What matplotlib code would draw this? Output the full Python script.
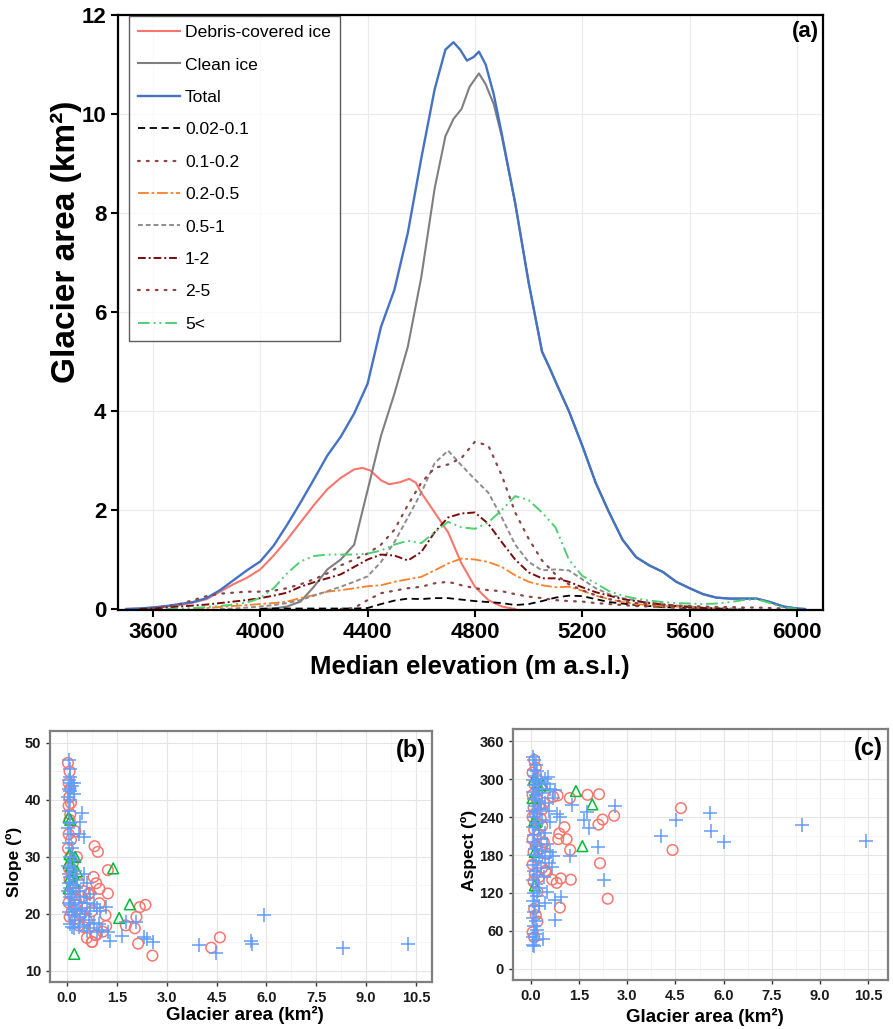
import matplotlib
matplotlib.use("Agg")
import matplotlib.pyplot as plt
import numpy as np
from matplotlib.ticker import MultipleLocator

nan = np.nan
plt.rcParams['font.family'] = ['Liberation Sans', 'DejaVu Sans']

# ---------------- panel (a) data ----------------
elev_total = [3500, 3550, 3600, 3650, 3700, 3750, 3800, 3850, 3900, 3950,
              4000, 4050, 4100, 4150, 4200, 4250, 4300, 4350, 4400, 4450,
              4500, 4550, 4600, 4650, 4690, 4720, 4745, 4770, 4795, 4815,
              4840, 4870, 4900, 4950, 5000, 5050, 5080, 5100, 5150, 5200,
              5250, 5300, 5350, 5400, 5450, 5500, 5550, 5600, 5650, 5700,
              5750, 5800, 5850, 5900, 5950, 6000, 6030]
total = [0.0, 0.01, 0.03, 0.06, 0.1, 0.14, 0.22, 0.38, 0.58, 0.78,
         0.96, 1.28, 1.7, 2.15, 2.62, 3.1, 3.48, 3.95, 4.55, 5.7,
         6.45, 7.6, 9.1, 10.5, 11.3, 11.45, 11.3, 11.08, 11.15, 11.26,
         11.0, 10.4, 9.6, 8.2, 6.6, 5.2, 4.85, 4.6, 4.0, 3.3,
         2.55, 1.95, 1.4, 1.05, 0.88, 0.75, 0.55, 0.42, 0.3, 0.23,
         0.21, 0.21, 0.21, 0.14, 0.05, 0.01, 0.0]

elev_clean = [4000, 4050, 4100, 4150, 4200, 4250, 4300, 4350, 4400, 4450,
              4500, 4550, 4600, 4650, 4690, 4720, 4750, 4780, 4815, 4840,
              4870, 4900, 4950, 5000, 5050, 5080, 5100, 5150, 5200, 5250,
              5300, 5350, 5400, 5450, 5500, 5550, 5600, 5650, 5700, 5750,
              5800, 5850, 5900, 5950, 6000, 6030]
clean = [0.0, 0.01, 0.05, 0.15, 0.45, 0.8, 1.0, 1.3, 2.4, 3.5,
         4.35, 5.3, 6.7, 8.5, 9.55, 9.9, 10.1, 10.55, 10.82, 10.6,
         10.2, 9.55, 8.2, 6.6, 5.2, 4.85, 4.6, 4.0, 3.3, 2.55,
         1.95, 1.4, 1.05, 0.88, 0.75, 0.55, 0.42, 0.3, 0.23, 0.21,
         0.21, 0.21, 0.14, 0.05, 0.01, 0.0]

elev_debris = [3500, 3550, 3600, 3650, 3700, 3750, 3800, 3850, 3900, 3950,
               4000, 4050, 4100, 4150, 4200, 4250, 4300, 4350, 4380, 4410,
               4450, 4480, 4520, 4555, 4580, 4600, 4650, 4700, 4750, 4800,
               4850, 4900, 4950]
debris = [0.0, 0.01, 0.03, 0.05, 0.08, 0.13, 0.2, 0.35, 0.5, 0.63,
          0.8, 1.08, 1.4, 1.75, 2.1, 2.42, 2.65, 2.82, 2.85, 2.8,
          2.6, 2.52, 2.56, 2.63, 2.55, 2.35, 1.95, 1.55, 0.92, 0.45,
          0.18, 0.05, 0.0]

# size classes on a 50 m elevation grid (3500 .. 6050)
elev_grid = np.arange(3500, 6051, 50)
cls_002_01 = [nan, nan, nan, nan, nan, nan, nan, nan, nan, nan,
              0.005, 0.01, 0.01, 0.01, 0.01, 0.01, 0.01, 0.01, 0.02, 0.1,
              0.17, 0.21, 0.2, 0.22, 0.22, 0.19, 0.16, 0.14, 0.12, 0.08,
              0.1, 0.16, 0.23, 0.27, 0.26, 0.2, 0.14, 0.11, 0.08, 0.06,
              0.04, 0.03, 0.02, 0.01, 0.005, 0.0, nan, nan, nan, nan,
              nan, nan]
cls_01_02 = [nan, nan, nan, nan, nan, nan, nan, nan, nan, nan,
             nan, nan, nan, nan, nan, nan, 0.0, 0.02, 0.18, 0.32,
             0.37, 0.42, 0.45, 0.52, 0.55, 0.48, 0.42, 0.38, 0.36, 0.3,
             0.25, 0.22, 0.18, 0.16, 0.15, 0.12, 0.1, 0.08, 0.06, 0.05,
             0.04, 0.03, 0.02, 0.02, 0.01, 0.01, 0.0, nan, nan, nan,
             nan, nan]
cls_02_05 = [nan, nan, nan, nan, nan, 0.01, 0.02, 0.04, 0.06, 0.08,
             0.1, 0.12, 0.15, 0.22, 0.28, 0.35, 0.38, 0.42, 0.46, 0.48,
             0.55, 0.6, 0.65, 0.78, 0.92, 1.02, 1.0, 0.95, 0.85, 0.68,
             0.55, 0.48, 0.44, 0.45, 0.37, 0.27, 0.2, 0.14, 0.1, 0.08,
             0.06, 0.05, 0.03, 0.02, 0.01, 0.0, nan, nan, nan, nan,
             nan, nan]
cls_05_1 = [nan, nan, nan, nan, nan, nan, nan, 0.0, 0.01, 0.03,
            0.05, 0.08, 0.12, 0.18, 0.27, 0.36, 0.45, 0.55, 0.66, 0.95,
            1.35, 1.85, 2.35, 2.95, 3.2, 2.9, 2.62, 2.35, 1.85, 1.3,
            0.95, 0.78, 0.8, 0.78, 0.6, 0.42, 0.3, 0.22, 0.17, 0.13,
            0.1, 0.07, 0.05, 0.03, 0.02, 0.01, 0.0, nan, nan, nan,
            nan, nan]
cls_1_2 = [nan, 0.0, 0.01, 0.03, 0.05, 0.07, 0.09, 0.12, 0.15, 0.18,
           0.22, 0.27, 0.33, 0.45, 0.54, 0.62, 0.7, 0.85, 1.0, 1.1,
           1.08, 0.98, 1.15, 1.55, 1.85, 1.93, 1.95, 1.72, 1.35, 1.0,
           0.74, 0.62, 0.62, 0.55, 0.44, 0.34, 0.27, 0.2, 0.16, 0.12,
           0.09, 0.06, 0.04, 0.02, 0.01, 0.0, nan, nan, nan, nan,
           nan, nan]
cls_2_5 = [nan, nan, 0.02, 0.05, 0.1, 0.18, 0.26, 0.31, 0.33, 0.35,
           0.35, 0.37, 0.42, 0.5, 0.6, 0.72, 0.88, 1.0, 1.12, 1.3,
           1.6, 2.1, 2.55, 2.85, 2.92, 3.05, 3.38, 3.3, 2.7, 1.95,
           1.42, 0.98, 0.7, 0.5, 0.38, 0.28, 0.2, 0.15, 0.12, 0.1,
           0.08, 0.07, 0.06, 0.05, 0.04, 0.04, 0.03, 0.03, 0.02, 0.01,
           0.0, nan]
cls_5 = [nan, nan, nan, 0.0, 0.01, 0.02, 0.04, 0.06, 0.09, 0.13,
         0.22, 0.42, 0.72, 0.96, 1.07, 1.1, 1.1, 1.1, 1.12, 1.18,
         1.3, 1.38, 1.33, 1.55, 1.76, 1.65, 1.62, 1.75, 2.0, 2.28,
         2.2, 1.95, 1.65, 1.0, 0.67, 0.52, 0.36, 0.27, 0.21, 0.17,
         0.14, 0.12, 0.11, 0.1, 0.11, 0.14, 0.18, 0.2, 0.12, 0.03,
         0.0, nan]

# ---------------- panel (b) data: area (km2) vs slope ----------------
blue_area_b = [10.25, 8.31, 5.92, 5.55, 5.57, 4.48, 3.98, 2.59, 2.32, 2.4, 2.09, 1.79, 1.66, 1.29, 1.23, 1.18,
               0.05, 0.08, 0.1, 0.05, 0.12, 0.2, 0.15, 0.06, 0.1, 0.2, 0.03, 0.08, 0.45, 0.4, 0.5, 0.35,
               0.06, 0.1, 0.03, 0.12, 0.05, 0.15, 0.08, 0.2, 0.03, 0.12, 0.25, 0.05, 0.1, 0.5, 0.3, 0.05,
               0.18, 0.6, 0.08, 0.28, 0.4, 0.03, 0.15, 0.5, 0.7, 0.1, 0.25, 0.35, 0.06, 0.6, 0.8, 0.12,
               0.45, 0.9, 0.2, 0.3, 0.05, 0.55, 0.7, 1.0, 0.15, 0.4, 0.65, 0.25, 0.8, 0.1, 0.5, 0.95,
               0.35, 0.7, 0.6, 0.2, 1.05, 0.9, 0.15]
blue_slope_b = [14.7, 14.1, 19.9, 15.3, 14.7, 13.1, 14.6, 15.1, 16.0, 15.6, 18.6, 18.6, 16.2, 15.3, 16.9, 21.3,
                47, 45.5, 44, 43.5, 43, 43, 42.5, 42, 41.5, 41, 40.5, 40, 37.8, 36.2, 33.5, 34,
                38, 36, 35, 34, 32.5, 31.5, 30, 29.5, 28.5, 28, 27.5, 27, 26.5, 27, 26, 25.5,
                25, 25.5, 24.5, 24.5, 24, 24, 23.5, 23, 23.5, 23, 22.5, 22, 22, 22, 21.8, 21.5,
                21, 21, 20.8, 20.5, 20.3, 20, 20.5, 20.5, 19.8, 19.5, 19, 19, 18.5, 18.2, 18, 18.2,
                17.8, 17.5, 17, 17.5, 17.2, 16.8, 17.7]
red_area_b = [4.6, 4.34, 2.57, 2.36, 2.19, 2.09, 2.04, 2.14, 1.77, 1.23, 1.23, 1.18, 1.08, 1.16, 0.98, 0.93,
              0.83, 0.88, 0.8, 0.76, 0.88, 0.68, 0.98,
              0.03, 0.08, 0.05, 0.1, 0.07, 0.12, 0.05, 0.1, 0.08, 0.25, 0.05, 0.12, 0.03, 0.1, 0.3, 0.18,
              0.06, 0.15, 0.08, 0.35, 0.2, 0.5, 0.1, 0.45, 0.25, 0.65, 0.05, 0.3, 0.55, 0.15, 0.4, 0.75,
              0.08, 0.25, 0.6, 0.35, 0.5, 0.85, 0.75, 0.6]
red_slope_b = [15.9, 14.1, 12.7, 21.6, 21.2, 19.5, 17.5, 14.8, 18.0, 27.7, 23.6, 17.9, 16.9, 19.8, 24.4, 30.9,
               31.9, 25.4, 26.5, 15.1, 16.3, 23.7, 21.9,
               46.5, 45, 43, 42, 40.5, 39.5, 39, 37.5, 36.5, 34.5, 34, 33, 31.5, 30, 30, 29,
               28, 27.5, 26, 25.5, 24.5, 24, 23.5, 23, 22.5, 23.5, 22, 21.5, 21, 20.5, 20, 20.5,
               19.5, 19.2, 18.8, 18, 17.7, 16.3, 15.1, 15.8]
green_area_b = [1.89, 1.57, 1.39, 0.22, 0.05, 0.1, 0.08, 0.15, 0.25, 0.05, 0.12, 0.3, 0.2, 0.1, 0.22, 0.05]
green_slope_b = [21.7, 19.3, 28.0, 13.0, 37, 36.5, 30.5, 30, 30, 29, 28.5, 27.5, 27, 26.5, 25.5, 24.5]

# ---------------- panel (c) data: area (km2) vs aspect ----------------
blue_area_c = [10.45, 8.44, 6.02, 5.62, 5.59, 4.53, 4.05, 2.63, 2.28, 2.1, 1.8, 1.75, 1.65, 1.23, 1.27, 0.64,
               0.75, 0.95, 0.75, 0.54, 0.75, 0.9, 0.44, 0.38, 0.07,
               0.05, 0.1, 0.15, 0.08, 0.2, 0.12, 0.3, 0.05, 0.2, 0.45, 0.1, 0.25, 0.5, 0.05, 0.35, 0.15,
               0.6, 0.08, 0.25, 0.45, 0.12, 0.7, 0.3, 0.05, 0.2, 0.55, 0.1, 0.8, 0.35, 0.15, 0.6, 0.05,
               0.25, 0.45, 0.1, 0.3, 0.05, 0.5, 0.2, 0.12, 0.35, 0.6, 0.08, 0.25, 0.45, 0.7, 0.15, 0.55,
               0.05, 0.3, 0.1, 0.2, 0.4, 0.05, 0.15, 0.25, 0.08, 0.18, 0.5, 0.05, 0.12, 0.25, 0.1, 0.05,
               0.15, 0.08, 0.2, 0.12, 0.05, 0.15, 0.08]
blue_aspect_c = [202, 228, 201, 218, 246, 236, 210, 258, 140, 193, 222, 248, 236, 179, 259, 161,
                 77, 114, 109, 303, 282, 240, 104, 48, 38,
                 335, 330, 322, 315, 312, 305, 300, 298, 295, 300, 290, 285, 292, 280, 278, 275,
                 285, 268, 265, 262, 258, 270, 252, 250, 245, 250, 240, 245, 235, 230, 232, 225,
                 220, 215, 212, 205, 200, 198, 195, 190, 186, 185, 180, 178, 175, 178, 170, 168,
                 165, 160, 155, 148, 145, 140, 135, 128, 120, 115, 122, 108, 100, 100, 90, 80,
                 75, 68, 62, 55, 50, 45, 36]
red_area_c = [4.67, 4.41, 2.59, 2.39, 2.23, 2.1, 2.15, 2.12, 1.76, 1.21, 1.22, 1.24, 1.04, 1.11, 0.85, 0.88,
              0.83, 0.69, 0.93, 0.8, 0.66, 0.9, 0.47,
              0.1, 0.15, 0.05, 0.2, 0.1, 0.3, 0.05, 0.18, 0.4, 0.25, 0.08, 0.35, 0.12, 0.3, 0.05, 0.2,
              0.35, 0.1, 0.25, 0.05, 0.4, 0.15, 0.3, 0.08, 0.5, 0.2, 0.05, 0.35, 0.12, 0.25, 0.45, 0.08,
              0.2, 0.1, 0.15, 0.05, 0.2, 0.1]
red_aspect_c = [254, 188, 242, 111, 236, 228, 167, 276, 275, 270, 188, 141, 224, 205, 205, 214,
                274, 272, 143, 136, 141, 97, 153,
                330, 318, 310, 300, 292, 285, 275, 268, 262, 258, 255, 252, 245, 238, 240, 230,
                226, 220, 212, 205, 200, 195, 190, 185, 182, 175, 165, 160, 150, 145, 155, 138,
                122, 95, 85, 58, 75, 50]
green_area_c = [1.4, 1.91, 1.6, 0.1, 0.12, 0.38, 0.1, 0.2, 0.05, 0.15, 0.12]
green_aspect_c = [281, 260, 194, 234, 132, 290, 300, 295, 270, 232, 185]

# ---------------- figure ----------------
fig = plt.figure(figsize=(8.93, 10.29), dpi=100)
W, H = 893.0, 1029.0

def px_axes(l, t, r, b):
    return fig.add_axes([l / W, 1 - b / H, (r - l) / W, (b - t) / H])

ax = px_axes(118, 15, 823, 610)
ax.plot(elev_debris, debris, color='#F8766D', lw=1.5, label='Debris-covered ice')
ax.plot(elev_clean, clean, color='#7F7F7F', lw=1.5, label='Clean ice')
ax.plot(elev_total, total, color='#4472C4', lw=1.7, label='Total')
ax.plot(elev_grid, cls_002_01, color='black', lw=1.3, ls=(0, (4, 2.5)), label='0.02-0.1')
ax.plot(elev_grid, cls_01_02, color='#8B4545', lw=1.6, ls=(0, (0.8, 3.2)), dash_capstyle='round', label='0.1-0.2')
ax.plot(elev_grid, cls_02_05, color='#FF7F27', lw=1.3, ls=(0, (6, 1.5, 1.5, 1.5)), label='0.2-0.5')
ax.plot(elev_grid, cls_05_1, color='#8C8C8C', lw=1.4, ls=(0, (2.5, 1.5)), label='0.5-1')
ax.plot(elev_grid, cls_1_2, color='#7A0A0A', lw=1.4, ls=(0, (4, 1.5, 1, 1.5)), label='1-2')
ax.plot(elev_grid, cls_2_5, color='#8B4545', lw=1.6, ls=(0, (0.8, 3.2)), dash_capstyle='round', label='2-5')
ax.plot(elev_grid, cls_5, color='#4CD070', lw=1.4, ls=(0, (6, 2, 1, 2, 1, 2)), label='5<')

ax.set_xlim(3470, 6097)
ax.set_ylim(-0.02, 12.0)
ax.set_xticks([3600, 4000, 4400, 4800, 5200, 5600, 6000])
ax.set_yticks([0, 2, 4, 6, 8, 10, 12])
ax.grid(True, color='#EBEBEB', lw=0.8)
ax.set_axisbelow(True)
for s in ax.spines.values():
    s.set_color('black')
    s.set_linewidth(1.6)
ax.tick_params(direction='out', length=5, width=1.5, colors='black', labelsize=16)
for lab in ax.get_xticklabels() + ax.get_yticklabels():
    lab.set_fontweight('bold')
ax.text(0.995, 0.99, '(a)', transform=ax.transAxes, ha='right', va='top', fontsize=16, fontweight='bold')
leg = ax.legend(loc='upper left', bbox_to_anchor=(0.0156, 0.998), borderaxespad=0, fancybox=False,
                frameon=True, handlelength=2.4, handletextpad=0.3, labelspacing=0.98,
                borderpad=0.5, prop={'size': 12.6})
leg.get_frame().set_edgecolor('#333333')
leg.get_frame().set_linewidth(1.0)
fig.text(470 / W, 1 - 667 / H, 'Median elevation (m a.s.l.)', ha='center', va='center', fontsize=18.5, fontweight='bold')
fig.text(66 / W, 1 - 242 / H, 'Glacier area (km²)', ha='center', va='center', rotation=90, fontsize=24, fontweight='bold')

def style_small(a):
    for s in a.spines.values():
        s.set_color('#7F7F7F')
        s.set_linewidth(1.6)
    a.xaxis.set_major_locator(MultipleLocator(1.5))
    a.xaxis.set_minor_locator(MultipleLocator(0.75))
    a.grid(True, which='major', color='#E5E5E5', lw=0.8)
    a.grid(True, which='minor', color='#F2F2F2', lw=0.5)
    a.set_axisbelow(True)
    a.tick_params(which='major', direction='out', length=3, width=1.0, colors='#333333', labelsize=10.5)
    a.tick_params(which='minor', length=0)
    a.set_xticks([0.0, 1.5, 3.0, 4.5, 6.0, 7.5, 9.0, 10.5])
    a.set_xticklabels(['0.0', '1.5', '3.0', '4.5', '6.0', '7.5', '9.0', '10.5'], fontweight='bold', color='#1A1A1A')

def scatter_groups(a, ra, ry, ga, gy, ba, by):
    a.scatter(ra, ry, s=58, facecolors='none', edgecolors='#F8766D', linewidths=1.1, zorder=3)
    a.scatter(ga, gy, s=60, marker='^', facecolors='none', edgecolors='#00BA38', linewidths=1.1, zorder=3)
    a.scatter(ba, by, s=90, marker='+', color='#619CFF', linewidths=1.1, zorder=3)

# panel (b)
bx = px_axes(50, 731, 432, 982)
scatter_groups(bx, red_area_b, red_slope_b, green_area_b, green_slope_b, blue_area_b, blue_slope_b)
bx.set_xlim(-0.51, 10.98)
bx.set_ylim(8.07, 52.1)
bx.yaxis.set_major_locator(MultipleLocator(10))
bx.yaxis.set_minor_locator(MultipleLocator(5))
style_small(bx)
bx.set_yticks([10, 20, 30, 40, 50])
bx.set_yticklabels(['10', '20', '30', '40', '50'], fontweight='bold', color='#1A1A1A')
bx.text(0.985, 0.97, '(b)', transform=bx.transAxes, ha='right', va='top', fontsize=17, fontweight='bold')
fig.text(245 / W, 1 - 1015 / H, 'Glacier area (km²)', ha='center', va='center', fontsize=13.5, fontweight='bold')
fig.text(14 / W, 1 - 862 / H, 'Slope (º)', ha='center', va='center', rotation=90, fontsize=12.5, fontweight='bold')

# panel (c)
cx = px_axes(513, 729, 888, 980)
scatter_groups(cx, red_area_c, red_aspect_c, green_area_c, green_aspect_c, blue_area_c, blue_aspect_c)
cx.set_xlim(-0.56, 11.12)
cx.set_ylim(-17.4, 379)
cx.yaxis.set_major_locator(MultipleLocator(60))
cx.yaxis.set_minor_locator(MultipleLocator(30))
style_small(cx)
cx.set_yticks([0, 60, 120, 180, 240, 300, 360])
cx.set_yticklabels(['0', '60', '120', '180', '240', '300', '360'], fontweight='bold', color='#1A1A1A')
cx.text(0.985, 0.97, '(c)', transform=cx.transAxes, ha='right', va='top', fontsize=17, fontweight='bold')
fig.text(705 / W, 1 - 1017 / H, 'Glacier area (km²)', ha='center', va='center', fontsize=13.5, fontweight='bold')
fig.text(469 / W, 1 - 850 / H, 'Aspect (º)', ha='center', va='center', rotation=90, fontsize=12.5, fontweight='bold')

fig.savefig('out.png', dpi=100)
